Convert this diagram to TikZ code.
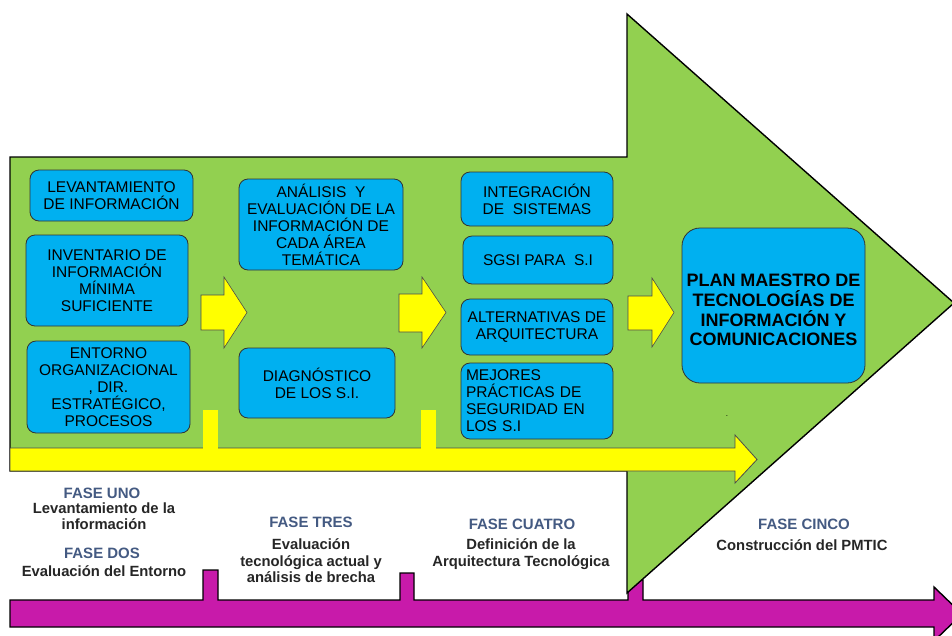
\documentclass[tikz,border=0pt]{standalone}
\usepackage{fontspec}
\setmainfont{Liberation Sans}
\definecolor{bggreen}{RGB}{146,208,80}
\definecolor{boxblue}{RGB}{0,176,240}
\definecolor{yel}{RGB}{255,255,0}
\definecolor{mag}{RGB}{200,26,170}
\definecolor{fase}{RGB}{68,90,130}
\begin{document}
\begin{tikzpicture}[x=1pt,y=-1pt,
  bx/.style={draw=black!80, line width=0.8pt, fill=boxblue, rounded corners=9pt,
    align=center, font=\fontsize{15.5}{17}\selectfont, inner sep=1pt},
  yshape/.style={fill=yel, draw=black!70, line width=0.6pt},
  bigarrow/.style={fill=bggreen, draw=black, line width=1.4pt, line join=miter},
  magarrow/.style={fill=mag, draw=black, line width=1.4pt},
  ftitle/.style={font=\bfseries\fontsize{15}{16.5}\selectfont, text=fase, inner sep=0pt},
  fdesc/.style={font=\bfseries\fontsize{14.8}{16.5}\selectfont, text=black!85, align=center, inner sep=0pt}]
\useasboundingbox (0,0) rectangle (952,635);
\fill[white] (0,0) rectangle (952,635);
\begin{scope}
\clip (0,0) rectangle (952,635);
% magenta timeline with ticks
\draw[magarrow] (10,600) -- (203,600) -- (203,570) -- (218,570) -- (218,600)
  -- (400,600) -- (400,573) -- (414,573) -- (414,600)
  -- (628,600) -- (628,580) -- (643,580) -- (643,600)
  -- (934,600) -- (934,587) -- (962,614) -- (934,641) -- (934,627) -- (10,627) -- cycle;
% big green arrow
\draw[bigarrow] (10,157) -- (627,157) -- (627,14) -- (954,303) -- (627,593) -- (627,471) -- (10,471) -- cycle;
\end{scope}
% long yellow arrow
\draw[yshape, line width=0.8pt] (10,448) -- (735,448) -- (735,435) -- (757,459.5) -- (735,483) -- (735,471) -- (10,471) -- cycle;
\fill[yel] (203,410) rectangle (218,449);
\fill[yel] (421,410) rectangle (436,449);
% small yellow arrows
\draw[yshape] (201,295) -- (224,295) -- (224,277) -- (247,312.5) -- (224,348) -- (224,330) -- (201,330) -- cycle;
\draw[yshape] (399,294) -- (422,294) -- (422,277) -- (446,312.5) -- (422,348) -- (422,332) -- (399,332) -- cycle;
\draw[yshape] (628,296) -- (652,296) -- (652,278) -- (674,312.5) -- (652,347) -- (652,330) -- (628,330) -- cycle;
% boxes
\node[bx, minimum width=163pt, minimum height=51pt] (lev) at (111.5,195.5) {LEVANTAMIENTO\\DE INFORMACIÓN};
\node[bx, minimum width=162pt, minimum height=91pt] (inv) at (107,280.5) {INVENTARIO DE\\INFORMACIÓN\\MÍNIMA\\SUFICIENTE};
\node[bx, minimum width=163pt, minimum height=92pt] (ent) at (108.5,387) {ENTORNO\\ORGANIZACIONAL\\, DIR.\\ESTRATÉGICO,\\PROCESOS};
\node[bx, minimum width=164pt, minimum height=91pt] (ana) at (321,224.5) {ANÁLISIS \ Y\\EVALUACIÓN DE LA\\INFORMACIÓN DE\\CADA ÁREA\\TEMÁTICA};
\node[bx, minimum width=156pt, minimum height=70pt] (dia) at (317,383) {DIAGNÓSTICO\\DE LOS S.I.};
\node[bx, minimum width=152pt, minimum height=54pt] (int) at (537,199) {INTEGRACIÓN\\DE \ SISTEMAS};
\node[bx, minimum width=150pt, minimum height=48pt] (sgsi) at (538,260) {SGSI PARA \ S.I};
\node[bx, minimum width=152pt, minimum height=56pt] (alt) at (537,327) {ALTERNATIVAS DE\\ARQUITECTURA};
\node[bx, minimum width=152pt, minimum height=76pt, align=left, text width=142pt] (mej) at (537,401) {MEJORES\\PRÁCTICAS DE\\SEGURIDAD EN\\LOS S.I};
\node[bx, minimum width=183pt, minimum height=155pt, rounded corners=18pt] (plan) at (773.5,305.5) {};
\node[font=\bfseries\fontsize{18}{19.7}\selectfont, align=center, inner sep=0pt] (plantext) at ([yshift=-4.5pt]plan.center) {PLAN MAESTRO DE\\TECNOLOGÍAS DE\\INFORMACIÓN Y\\COMUNICACIONES};
\node[font=\fontsize{8}{8}\selectfont, inner sep=0pt] (dot) at (727,416) {.};
% phase labels
\node[ftitle] (f1t) at (102,493) {FASE UNO};
\node[fdesc] (f1d) at (104,516) {Levantamiento de la\\información};
\node[ftitle] (f2t) at (102,553) {FASE DOS};
\node[fdesc] (f2d) at (104,571) {Evaluación del Entorno};
\node[ftitle] (f3t) at (311,522) {FASE TRES};
\node[fdesc] (f3d) at (311,561) {Evaluación\\tecnológica actual y\\análisis de brecha};
\node[ftitle] (f4t) at (522,524) {FASE CUATRO};
\node[fdesc] (f4d) at (521,554) {Definición de la\\Arquitectura Tecnológica};
\node[ftitle] (f5t) at (804,524) {FASE CINCO};
\node[fdesc] (f5d) at (802,545) {Construcción del PMTIC};
\end{tikzpicture}
\end{document}
